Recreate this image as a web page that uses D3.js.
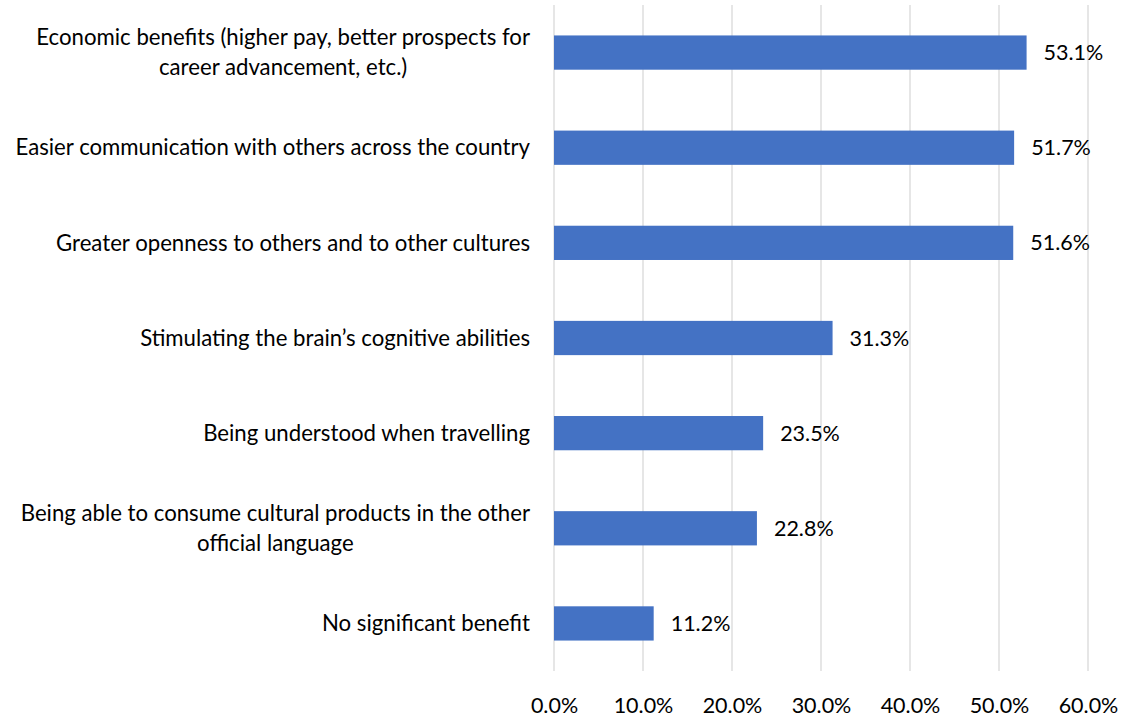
<!DOCTYPE html>
<html>
<head>
<meta charset="utf-8">
<script src="https://cdn.jsdelivr.net/npm/d3@7"></script>
<style>
  html, body { margin: 0; padding: 0; background: #fff; }
  svg { display: block; font-family: Lato, "Open Sans", sans-serif; }
</style>
</head>
<body>
<svg id="chart" width="1125" height="717"></svg>
<script>
// Perceived benefits of knowing the other official language (% of respondents)
const categories = [
  ["Economic benefits (higher pay, better prospects for", "career advancement, etc.)"],
  ["Easier communication with others across the country"],
  ["Greater openness to others and to other cultures"],
  ["Stimulating the brain\u2019s cognitive abilities"],
  ["Being understood when travelling"],
  ["Being able to consume cultural products in the other", "official language"],
  ["No significant benefit"]
];
const values = [53.1, 51.7, 51.6, 31.3, 23.5, 22.8, 11.2];
const tickValues = [0, 10, 20, 30, 40, 50, 60];

const svg = d3.select("#chart");
const margin = { left: 554, right: 37, top: 5, bottom: 46 };
const W = 1125, H = 717;

const x = d3.scaleLinear().domain([0, 60]).range([margin.left, W - margin.right]);
const y = d3.scaleBand()
  .domain(d3.range(categories.length))
  .range([margin.top, H - margin.bottom])
  .paddingInner(0.64)
  .paddingOuter(0.32);

// vertical gridlines
svg.append("g")
  .selectAll("line")
  .data(tickValues)
  .join("line")
  .attr("x1", d => x(d)).attr("x2", d => x(d))
  .attr("y1", margin.top).attr("y2", H - margin.bottom)
  .attr("stroke", "#d9d9d9")
  .attr("stroke-width", 1.3);

// x axis tick labels
const xAxis = d3.axisBottom(x)
  .tickValues(tickValues)
  .tickFormat(d => d3.format(".1f")(d) + "%")
  .tickSize(0)
  .tickPadding(0);
const gx = svg.append("g")
  .attr("transform", `translate(0,${H - margin.bottom + 34})`)
  .call(xAxis);
gx.select(".domain").remove();
gx.selectAll("text")
  .attr("font-size", 21.5)
  .attr("font-family", "Lato, sans-serif")
  .attr("fill", "#000")
  .attr("dy", "0.35em");

// bars
svg.append("g")
  .selectAll("rect")
  .data(values)
  .join("rect")
  .attr("x", x(0))
  .attr("y", (d, i) => y(i))
  .attr("width", d => x(d) - x(0))
  .attr("height", y.bandwidth())
  .attr("fill", "#4472C4");

// value labels
svg.append("g")
  .selectAll("text")
  .data(values)
  .join("text")
  .attr("x", d => x(d) + 17)
  .attr("y", (d, i) => y(i) + y.bandwidth() / 2)
  .attr("dy", "0.35em")
  .attr("font-size", 21.5)
  .attr("fill", "#000")
  .text(d => d.toFixed(1) + "%");

// category labels: right-aligned block, lines centred within it
const labelRight = 530;
const lineH = 30;
const lg = svg.append("g");
categories.forEach((lines, i) => {
  const cy = y(i) + y.bandwidth() / 2;
  const t = lg.append("text")
    .attr("font-size", 22.2)
    .attr("fill", "#000")
    .attr("text-anchor", "middle");
  lines.forEach((ln, k) => {
    t.append("tspan")
      .attr("y", cy + (k - (lines.length - 1) / 2) * lineH)
      .attr("dy", "0.35em")
      .text(ln);
  });
  let maxW = 0;
  t.selectAll("tspan").each(function () {
    maxW = Math.max(maxW, this.getComputedTextLength());
  });
  t.selectAll("tspan").attr("x", labelRight - maxW / 2);
});
</script>
</body>
</html>
